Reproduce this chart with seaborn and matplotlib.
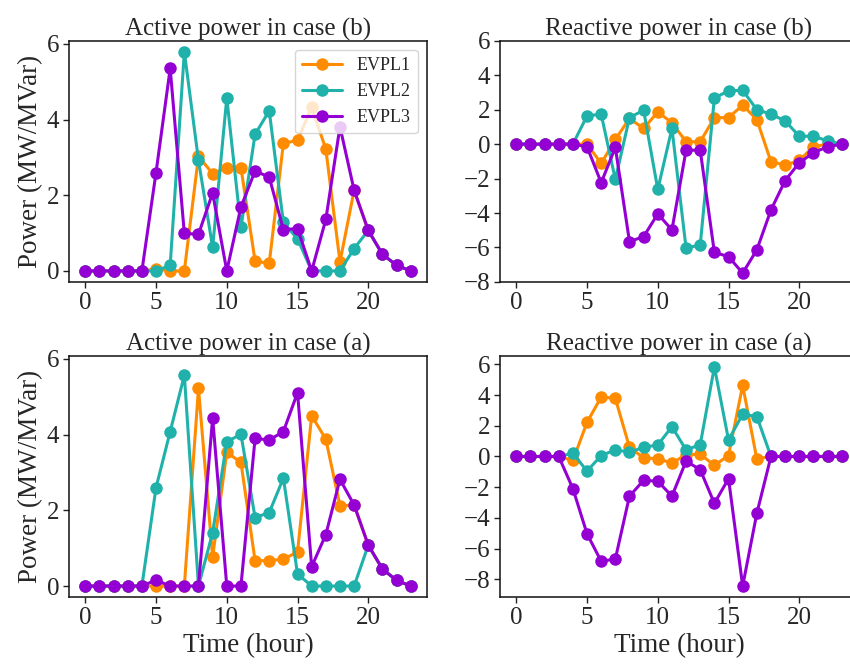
import numpy as np
import pandas as pd
import matplotlib
matplotlib.use("Agg")
import matplotlib.pyplot as plt
import seaborn as sns

hours = list(range(24))
series_names = ["EVPL1", "EVPL2", "EVPL3"]
colors = ["#FF8C00", "#20B2AA", "#9400D3"]

# Active power, case (b)
act_b_evpl1 = [0, 0, 0, 0, 0, 0.05, 0, 0, 3.03, 2.57, 2.73, 2.73, 0.26, 0.2, 3.37, 3.45, 4.32, 3.22, 0.24, 2.13, 1.07, 0.44, 0.15, 0]
act_b_evpl2 = [0, 0, 0, 0, 0, 0, 0.15, 5.79, 2.92, 0.62, 4.57, 1.15, 3.61, 4.23, 1.28, 0.85, 0, 0, 0, 0.59, 1.07, 0.44, 0.15, 0]
act_b_evpl3 = [0, 0, 0, 0, 0, 2.6, 5.35, 0.99, 0.97, 2.06, 0, 1.69, 2.64, 2.48, 1.09, 1.12, 0, 1.36, 3.81, 2.13, 1.07, 0.44, 0.15, 0]

# Reactive power, case (b)
rea_b_evpl1 = [0, 0, 0, 0, 0, 0, -1.12, 0.27, 1.49, 0.91, 1.87, 1.24, 0.14, 0.14, 1.54, 1.54, 2.26, 1.43, -1.02, -1.22, -0.95, -0.15, 0, 0]
rea_b_evpl2 = [0, 0, 0, 0, 0, 1.64, 1.74, -2.05, 1.54, 1.97, -2.63, 0.91, -6.04, -5.85, 2.68, 3.09, 3.13, 2.0, 1.74, 1.35, 0.46, 0.46, 0.19, 0]
rea_b_evpl3 = [0, 0, 0, 0, 0, -0.15, -2.24, -0.19, -5.66, -5.37, -4.05, -4.98, -0.35, -0.35, -6.29, -6.53, -7.49, -6.14, -3.82, -2.12, -1.08, -0.5, -0.15, 0]

# Active power, case (a)
act_a_evpl1 = [0, 0, 0, 0, 0, 0, 0, 0, 5.22, 0.77, 3.53, 3.27, 0.67, 0.67, 0.71, 0.9, 4.5, 3.88, 2.12, 2.14, 1.08, 0.45, 0.15, 0]
act_a_evpl2 = [0, 0, 0, 0, 0, 2.6, 4.08, 5.57, 0, 1.41, 3.81, 4.01, 1.81, 1.94, 2.85, 0.32, 0, 0, 0, 0, 1.08, 0.45, 0.15, 0]
act_a_evpl3 = [0, 0, 0, 0, 0, 0.16, 0, 0, 0, 4.44, 0, 0, 3.9, 3.86, 4.08, 5.11, 0.51, 1.36, 2.82, 2.14, 1.08, 0.45, 0.15, 0]

# Reactive power, case (a)
rea_a_evpl1 = [0, 0, 0, 0, -0.26, 2.22, 3.87, 3.78, 0.6, -0.09, -0.15, -0.43, 0.12, 0.15, -0.58, 0.06, 4.62, -0.15, 0, 0, 0, 0, 0, 0]
rea_a_evpl2 = [0, 0, 0, 0, 0.21, -0.95, 0.06, 0.43, 0.28, 0.6, 0.75, 1.94, 0.43, 0.77, 5.83, 1.08, 2.75, 2.6, 0, 0, 0, 0, 0, 0]
rea_a_evpl3 = [0, 0, 0, 0, -2.09, -5.03, -6.82, -6.67, -2.58, -1.55, -1.61, -2.58, -0.3, -0.86, -3.05, -1.44, -8.43, -3.7, 0, 0, 0, 0, 0, 0]

titles = ["Active power in case (b)", "Reactive power in case (b)",
          "Active power in case (a)", "Reactive power in case (a)"]

panels = [
    [act_b_evpl1, act_b_evpl2, act_b_evpl3],
    [rea_b_evpl1, rea_b_evpl2, rea_b_evpl3],
    [act_a_evpl1, act_a_evpl2, act_a_evpl3],
    [rea_a_evpl1, rea_a_evpl2, rea_a_evpl3],
]

sns.set_style("ticks")
plt.rcParams["font.family"] = ["Liberation Serif", "DejaVu Serif"]

fig, axes = plt.subplots(2, 2, figsize=(8.5, 6.69), dpi=100)
fig.subplots_adjust(left=0.0812, right=1.0094, top=0.939, bottom=0.1076,
                    wspace=0.204, hspace=0.307)

for idx, ax in enumerate(axes.flat):
    rows = []
    for name, vals in zip(series_names, panels[idx]):
        for h, v in zip(hours, vals):
            rows.append({"hour": h, "value": v, "series": name})
    df = pd.DataFrame(rows)
    sns.lineplot(data=df, x="hour", y="value", hue="series",
                 hue_order=series_names, palette=colors, marker="o",
                 markersize=9, markeredgewidth=0, linewidth=2.2,
                 ax=ax, legend=(idx == 0))
    ax.set_title(titles[idx], fontsize=18, pad=4)
    ax.set_xticks([0, 5, 10, 15, 20])
    ax.tick_params(labelsize=18, length=4, width=1, color="#222222", pad=3)
    for sp in ax.spines.values():
        sp.set_linewidth(1.1)
        sp.set_color("#111111")
    if idx in (2, 3):
        ax.set_xlabel("Time (hour)", fontsize=19.5, labelpad=3)
    else:
        ax.set_xlabel("")
    if idx in (0, 2):
        ax.set_ylabel("Power (MW/MVar)", fontsize=19.5, labelpad=3)
        ax.set_yticks([0, 2, 4, 6])
        ax.set_ylim(-0.29, 6.08)
    else:
        ax.set_ylabel("")
    ax.set_xlim(-1.15, 24.15)

axes[0, 1].set_ylim(-8, 6)
axes[0, 1].set_yticks([-8, -6, -4, -2, 0, 2, 4, 6])
axes[1, 1].set_yticks([-8, -6, -4, -2, 0, 2, 4, 6])

leg = axes[0, 0].legend(loc="upper right", fontsize=13, title=None,
                        framealpha=0.8, handlelength=2.2)

fig.savefig("out.png", dpi=100)
